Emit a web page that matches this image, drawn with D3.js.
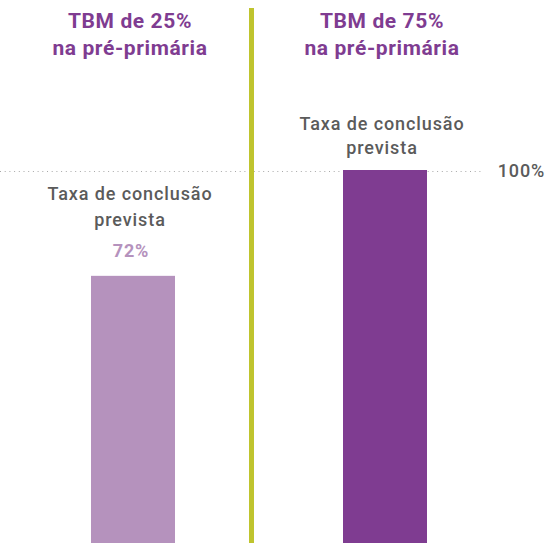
<!DOCTYPE html>
<html>
<head>
<meta charset="utf-8">
<script src="https://cdn.jsdelivr.net/npm/d3@7"></script>
<style>
  html, body { margin: 0; padding: 0; background: #fff; }
  svg { display: block; font-family: Roboto, "Open Sans", sans-serif; }
</style>
</head>
<body>
<svg id="chart" width="549" height="543"></svg>
<script>
// data
const scenarios = ['TBM de 25%', 'TBM de 75%']
const subtitles = ['na pré-primária', 'na pré-primária']
const completion = [72, 100]
const valueLabels = ['72%', '']
const refValue = 100
const refLabel = '100%'
const barLabel = ['Taxa de conclusão', 'prevista']

const width = 549
const height = 543
const purple = '#7f3c91'
const lilac = '#b592bd'
const grey = '#5b5b5b'
const divider = '#bfc42e'

const svg = d3.select('#chart')

const x = d3.scaleBand()
  .domain(scenarios)
  .range([7, 511])
  .paddingInner(2 / 3)
  .paddingOuter(1 / 3)

const y = d3.scaleLinear()
  .domain([0, 100])
  .range([548, 170])

const rows = scenarios.map((s, i) => ({ s, sub: subtitles[i], v: completion[i], lab: valueLabels[i], i }))

// dotted reference line at 100%
svg.append('line')
  .attr('x1', 0)
  .attr('x2', 482)
  .attr('y1', Math.round(y(refValue)) + 1.5)
  .attr('y2', Math.round(y(refValue)) + 1.5)
  .attr('stroke', '#a8a8a8')
  .attr('stroke-width', 1)
  .attr('stroke-dasharray', '1 3.7')

svg.append('text')
  .attr('x', 545)
  .attr('y', y(refValue) + 7)
  .attr('text-anchor', 'end')
  .attr('fill', grey)
  .attr('font-weight', 500)
  .style('font-size', '18px')
  .style('letter-spacing', '0.8px')
  .text(refLabel)

// vertical separator between the two panels
svg.append('rect')
  .attr('x', 249)
  .attr('y', 8)
  .attr('width', 5)
  .attr('height', height - 8)
  .attr('fill', divider)

// bars
svg.append('g')
  .selectAll('rect')
  .data(rows)
  .join('rect')
  .attr('x', d => x(d.s))
  .attr('y', d => y(d.v))
  .attr('width', x.bandwidth())
  .attr('height', d => y(0) - y(d.v))
  .attr('fill', d => d.i === 0 ? lilac : purple)

// panel titles
const titles = svg.append('g')
  .attr('fill', purple)
  .attr('font-weight', 'bold')
  .attr('text-anchor', 'middle')
  .style('font-size', '21px')
  .style('letter-spacing', '0.6px')
  .selectAll('text')
  .data(rows)
  .join('text')
  .attr('x', d => x(d.s) + x.bandwidth() / 2 - 3)
titles.append('tspan').attr('y', 28).text(d => d.s)
titles.append('tspan').attr('x', d => x(d.s) + x.bandwidth() / 2 - 3).attr('y', 55).text(d => d.sub)

// "Taxa de conclusão prevista" above each bar
const labels = svg.append('g')
  .attr('fill', grey)
  .attr('text-anchor', 'middle')
  .attr('font-weight', 500)
  .style('font-size', '18px')
  .style('letter-spacing', '0.9px')
  .selectAll('text')
  .data(rows)
  .join('text')
labels.append('tspan')
  .attr('x', d => x(d.s) + x.bandwidth() / 2 - 3)
  .attr('y', d => y(d.v) - (d.lab ? 76 : 40))
  .text(barLabel[0])
labels.append('tspan')
  .attr('x', d => x(d.s) + x.bandwidth() / 2 - 3)
  .attr('y', d => y(d.v) - (d.lab ? 50 : 16))
  .text(barLabel[1])

// value label (left bar only)
svg.append('g')
  .selectAll('text')
  .data(rows.filter(d => d.lab))
  .join('text')
  .attr('x', d => x(d.s) + x.bandwidth() / 2 - 2)
  .attr('y', d => y(d.v) - 19)
  .attr('text-anchor', 'middle')
  .attr('fill', lilac)
  .attr('font-weight', 'bold')
  .style('font-size', '18px')
  .style('letter-spacing', '0.8px')
  .text(d => d.lab)
</script>
</body>
</html>
